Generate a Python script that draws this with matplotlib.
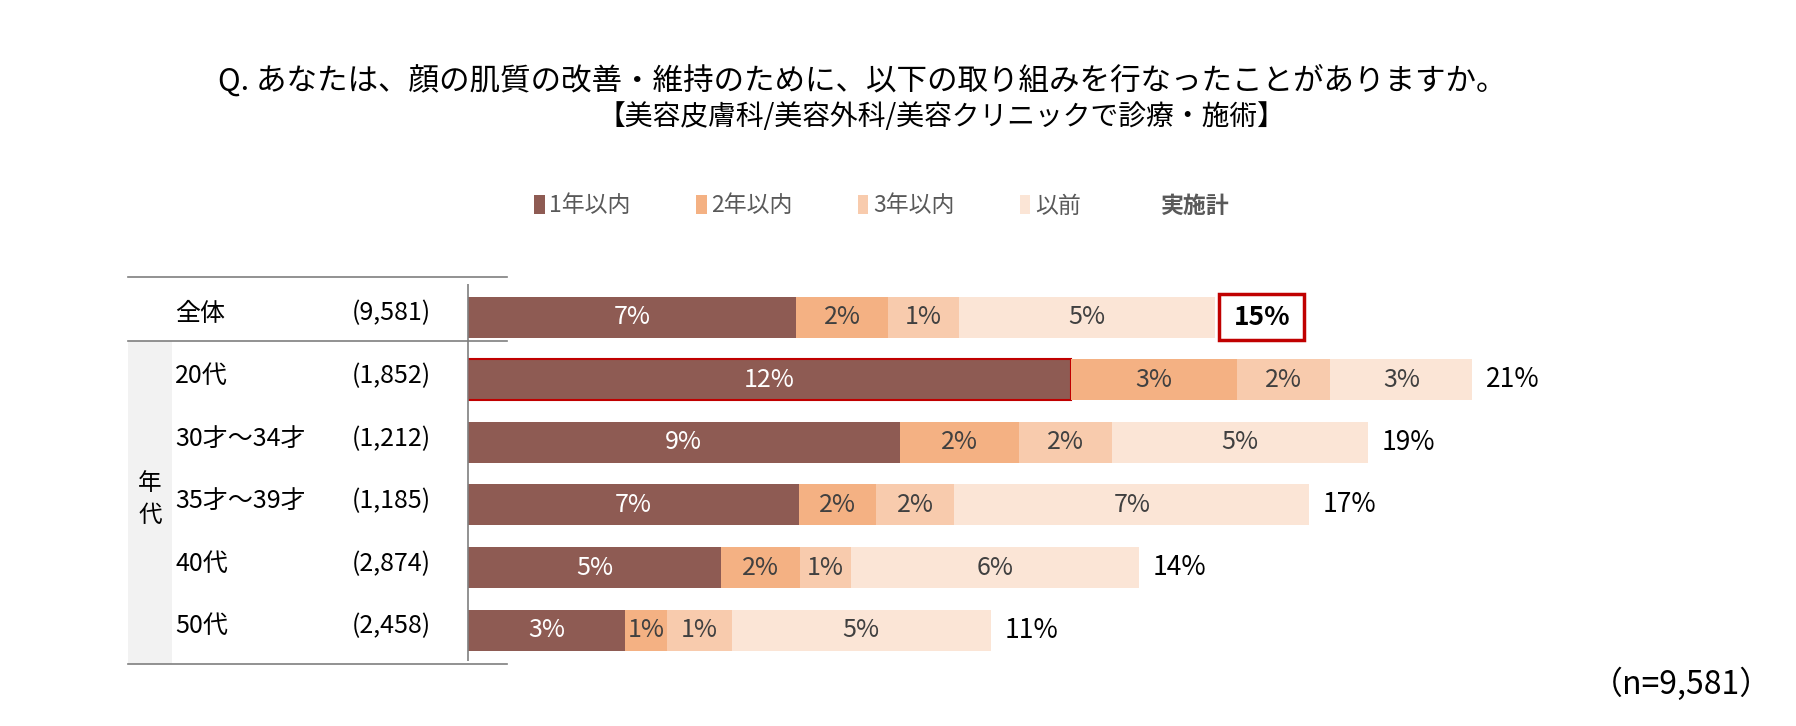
import matplotlib
matplotlib.use("Agg")
import matplotlib.pyplot as plt
from matplotlib.patches import Rectangle, Patch
from matplotlib.transforms import blended_transform_factory

plt.rcParams['font.family'] = ['Noto Sans CJK JP', 'DejaVu Sans']

# ---------------------------
# Data (percent)
# ---------------------------
categories = ['全体', '20代', '30才～34才', '35才～39才', '40代', '50代']
counts = ['(9,581)', '(1,852)', '(1,212)', '(1,185)', '(2,874)', '(2,458)']
within_1y = [6.78, 12.45, 8.92, 6.83, 5.23, 3.25]
within_2y = [1.90, 3.43, 2.47, 1.61, 1.63, 0.86]
within_3y = [1.47, 1.94, 1.91, 1.61, 1.05, 1.34]
before = [5.29, 2.93, 5.29, 7.33, 5.95, 5.35]
series_names = ['1年以内', '2年以内', '3年以内', '以前']
total_name = '実施計'
group_name = '年代'
n_note = '（n=9,581）'
title1 = 'Q. あなたは、顔の肌質の改善・維持のために、以下の取り組みを行なったことがありますか。'
title2 = '【美容皮膚科/美容外科/美容クリニックで診療・施術】'

colors = ['#8E5B53', '#F4B183', '#F8CBAD', '#FBE5D6']
label_colors = ['white', '#404040', '#404040', '#404040']

# ---------------------------
# Figure layout (pixel based)
# ---------------------------
W, H = 1796, 726
fig = plt.figure(figsize=(W / 100, H / 100), dpi=100)

def fx(px):
    return px / W

def fy(py):
    return 1 - py / H

ax = fig.add_axes([fx(468), fy(664), fx(1700) - fx(468), (664 - 277) / H])
ax.set_xlim(0, 1232 / 48.4)
ax.set_ylim(5.542, -0.644)
ax.axis('off')

series = [within_1y, within_2y, within_3y, before]
ypos = list(range(len(categories)))
left = [0.0] * len(categories)
containers = []
for k, vals in enumerate(series):
    bars = ax.barh(ypos, vals, left=left, height=0.655, color=colors[k],
                   label=series_names[k], linewidth=0)
    containers.append(bars)
    for i, v in enumerate(vals):
        ax.text(left[i] + v / 2, i, f'{v:.0f}%', ha='center', va='center',
                fontsize=18, color=label_colors[k])
    left = [a + b for a, b in zip(left, vals)]

# highlight 20代 / 1年以内
containers[0].patches[1].set_edgecolor('#C00000')
containers[0].patches[1].set_linewidth(1.5)

# totals
totals = left
for i, t in enumerate(totals):
    if i == 0:
        bw = 85 / 48.4
        bx = t + 4 / 48.4
        ax.add_patch(Rectangle((bx, -0.367), bw, 0.735, facecolor='white',
                               edgecolor='#C00000', linewidth=2.5, clip_on=False))
        ax.text(bx + bw / 2, i, f'{t:.0f}%', ha='center', va='center',
                fontsize=19, fontweight='bold', color='black')
    else:
        ax.annotate(f'{t:.0f}%', (t, i), xytext=(10, 0), textcoords='offset points',
                    ha='left', va='center', fontsize=19, color='black')

# axis line
ax.vlines(0, -0.532, 5.494, color='#7F7F7F', linewidth=1.2, clip_on=False)

# ---------------------------
# Table on the left
# ---------------------------
tr = blended_transform_factory(fig.transFigure, ax.transData)
ax.add_patch(Rectangle((fx(128), 0.379), fx(172) - fx(128), 5.542 - 0.379,
                       transform=tr, facecolor='#F2F2F2', edgecolor='none',
                       clip_on=False, zorder=0))
for yl in [-0.644, 0.379, 5.542]:
    ax.plot([fx(128), fx(507)], [yl, yl], transform=tr, color='#7F7F7F',
            linewidth=1.2, clip_on=False)

for i, (cat, cnt) in enumerate(zip(categories, counts)):
    ax.text(fx(175), i - 0.06, cat, transform=tr, ha='left', va='center',
            fontsize=18, color='black')
    ax.text(fx(431), i - 0.06, cnt, transform=tr, ha='right', va='center',
            fontsize=18, color='black')

ax.text(fx(150), 2.92, '\n'.join(group_name), transform=tr, ha='center',
        va='center', fontsize=17, linespacing=1.5, color='black')

# ---------------------------
# Titles, legend, note
# ---------------------------
fig.text(fx(862), fy(80), title1, ha='center', va='center', fontsize=22, color='black')
fig.text(fx(941), fy(117), title2, ha='center', va='center', fontsize=20, color='black')

handles = containers + [Patch(facecolor='none', edgecolor='none')]
labels = series_names + [total_name]
leg = fig.legend(handles, labels, loc='center', bbox_to_anchor=(fx(882), fy(206)),
                 ncol=5, frameon=False, fontsize=16.5, handlelength=0.45,
                 handleheight=0.9, handletextpad=0.2, columnspacing=2.86)
for txt in leg.get_texts():
    txt.set_color('#595959')
leg.get_texts()[-1].set_fontweight('bold')

fig.text(fx(1772), fy(684), n_note, ha='right', va='center', fontsize=23, color='black')

fig.savefig('out.png', dpi=100)
